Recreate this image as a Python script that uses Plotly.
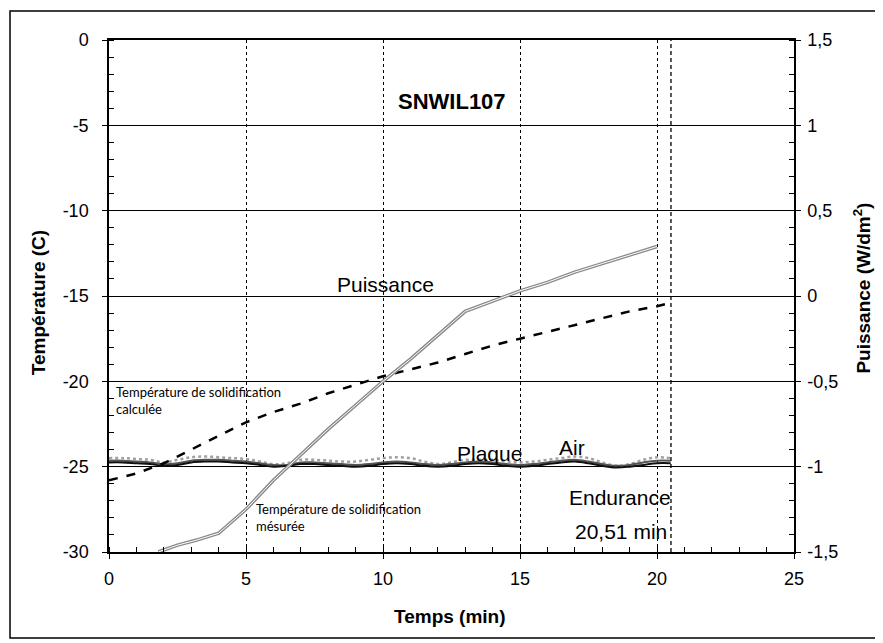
import plotly.graph_objects as go

# ---- Data ----
puis_t = [1.8, 2.5, 3.2, 4.0, 5.0, 6.0, 7.0, 8.0, 9.0, 10.0, 11.0, 12.0, 13.0, 14.0, 15.0, 16.0, 17.0, 18.0, 19.0, 20.0]
puis_w = [-1.5, -1.46, -1.43, -1.39, -1.25, -1.08, -0.93, -0.78, -0.64, -0.5, -0.37, -0.23, -0.09, -0.03, 0.03, 0.08, 0.14, 0.19, 0.24, 0.29]

calc_t = [0, 1, 2, 3, 4, 5, 6, 7, 8, 9, 10, 11, 12, 13, 14, 15, 16, 17, 18, 19, 20, 20.5]
calc_T = [-25.8, -25.4, -24.8, -24.0, -23.2, -22.4, -21.8, -21.3, -20.7, -20.2, -19.7, -19.3, -18.9, -18.4, -17.9, -17.5, -17.1, -16.7, -16.3, -15.9, -15.6, -15.4]

wave_t = [0, 0.5, 1, 1.5, 2, 2.5, 3, 3.5, 4, 4.5, 5, 5.5, 6, 6.5, 7, 7.5, 8, 8.5, 9, 9.5, 10,
          10.5, 11, 11.5, 12, 12.5, 13, 13.5, 14, 14.5, 15, 15.5, 16, 16.5, 17, 17.5, 18, 18.5, 19, 19.5, 20, 20.5]
air_T = [-24.5, -24.5, -24.55, -24.6, -24.75, -24.6, -24.45, -24.4, -24.45, -24.5, -24.55, -24.7, -24.85, -24.8,
         -24.6, -24.6, -24.65, -24.7, -24.7, -24.6, -24.5, -24.45, -24.5, -24.7, -24.85, -24.75, -24.6, -24.6,
         -24.6, -24.7, -24.75, -24.7, -24.6, -24.5, -24.4, -24.5, -24.75, -24.95, -24.85, -24.6, -24.45, -24.5]
mid_T = [-24.65, -24.65, -24.7, -24.75, -24.85, -24.8, -24.65, -24.6, -24.6, -24.65, -24.7, -24.8, -24.9, -24.9,
         -24.75, -24.75, -24.8, -24.85, -24.9, -24.85, -24.75, -24.7, -24.75, -24.85, -24.9, -24.85, -24.75, -24.7,
         -24.75, -24.85, -24.9, -24.85, -24.75, -24.65, -24.6, -24.7, -24.85, -24.95, -24.9, -24.75, -24.65, -24.65]
plaque_T = [-24.75, -24.75, -24.8, -24.85, -24.95, -24.9, -24.75, -24.7, -24.7, -24.75, -24.8, -24.9, -25.0, -24.95,
            -24.85, -24.85, -24.9, -24.95, -25.0, -24.95, -24.85, -24.8, -24.85, -24.95, -25.0, -24.95, -24.85, -24.8,
            -24.85, -24.95, -25.0, -24.95, -24.85, -24.75, -24.7, -24.8, -24.95, -25.05, -25.0, -24.9, -24.8, -24.8]

endurance = 20.51

x_ticks = [0, 5, 10, 15, 20, 25]
x_ticktext = ["0", "5", "10", "15", "20", "25"]
y_ticks = [0, -5, -10, -15, -20, -25, -30]
y_ticktext = ["0", "-5", "-10", "-15", "-20", "-25", "-30"]
y2_ticks = [1.5, 1, 0.5, 0, -0.5, -1, -1.5]
y2_ticktext = ["1,5", "1", "0,5", "0", "-0,5", "-1", "-1,5"]

FONT = "Liberation Sans"

fig = go.Figure()

# wavy temperature curves
fig.add_trace(go.Scatter(x=wave_t, y=air_T, mode="lines", line=dict(color="#a0a0a0", width=2.5, dash="dot", shape="spline")))
fig.add_trace(go.Scatter(x=wave_t, y=mid_T, mode="lines", line=dict(color="#555555", width=2, shape="spline")))
fig.add_trace(go.Scatter(x=wave_t, y=plaque_T, mode="lines", line=dict(color="#111111", width=2, shape="spline")))

# calculated solidification temperature (dashed)
fig.add_trace(go.Scatter(x=calc_t, y=calc_T, mode="lines", line=dict(color="black", width=2.5, dash="dash")))

# Puissance (double grey line) on right axis
fig.add_trace(go.Scatter(x=puis_t, y=puis_w, mode="lines", yaxis="y2", line=dict(color="#8a8a8a", width=3.5)))
fig.add_trace(go.Scatter(x=puis_t, y=puis_w, mode="lines", yaxis="y2", line=dict(color="white", width=1)))

fig.add_shape(type="line", xref="x", yref="y", x0=endurance, x1=endurance, y0=-30, y1=0,
              line=dict(color="black", width=1.3, dash="4px,3px"))

# outer frame
fig.add_shape(type="rect", xref="paper", yref="paper", x0=-0.1445, x1=1.1197, y0=-0.168, y1=1.0566,
              line=dict(color="black", width=1.5), layer="below")

ann = [
    (12.5, -3.6, "<b>SNWIL107</b>", 22),
    (10.1, -14.35, "Puissance", 21),
    (13.9, -24.25, "Plaque", 21),
    (16.9, -23.9, "Air", 21),
    (18.65, -26.8, "Endurance", 21),
    (18.7, -28.8, "20,51 min", 21),
]
annotations = []
for ax_, ay_, txt, sz in ann:
    annotations.append(dict(xref="x", yref="y", showarrow=False, xanchor="center", yanchor="middle",
                            font=dict(family=FONT, color="black", size=sz), x=ax_, y=ay_, text=txt))
annotations.append(dict(xref="x", yref="y", x=0.2, y=-21.1, xanchor="left", yanchor="middle", showarrow=False,
                        align="left", text="Température de solidification<br>calculée",
                        font=dict(family="Lato", size=13, color="black")))
annotations.append(dict(xref="x", yref="y", x=5.3, y=-28.0, xanchor="left", yanchor="middle", showarrow=False,
                        align="left", text="Température de solidification<br>mésurée",
                        font=dict(family="Lato", size=13, color="black")))
# axis titles
annotations.append(dict(xref="paper", yref="paper", x=-0.1036, y=0.486, textangle=-90, showarrow=False,
                        xanchor="center", yanchor="middle",
                        text="<b>Température (C)</b>", font=dict(family=FONT, size=19, color="black")))
annotations.append(dict(xref="paper", yref="paper", x=1.099, y=0.516, textangle=-90, showarrow=False,
                        xanchor="center", yanchor="middle",
                        text="<b>Puissance (W/dm<sup>2</sup>)</b>", font=dict(family=FONT, size=19, color="black")))
annotations.append(dict(xref="paper", yref="paper", x=0.498, y=-0.125, showarrow=False,
                        xanchor="center", yanchor="middle",
                        text="<b>Temps (min)</b>", font=dict(family=FONT, size=19, color="black")))

fig.update_layout(
    width=875, height=635,
    margin=dict(l=101, r=89, t=32, b=91),
    paper_bgcolor="white", plot_bgcolor="white",
    showlegend=False,
    font=dict(family=FONT, color="black", size=18),
    annotations=annotations,
    xaxis=dict(range=[0, 25], tickvals=x_ticks, ticktext=x_ticktext, showgrid=True, gridcolor="black", gridwidth=1,
               griddash="dot", showline=True, linecolor="black", linewidth=1.5, mirror=True, zeroline=False,
               ticks="outside", ticklen=5, tickcolor="black", ticklabelstandoff=5,
               minor=dict(dtick=1, tick0=0, ticks="inside", ticklen=5, tickcolor="black", showgrid=False),
               tickfont=dict(size=18)),
    yaxis=dict(range=[-30, 0], tickvals=y_ticks, ticktext=y_ticktext, showgrid=True, gridcolor="black", gridwidth=1,
               showline=True, linecolor="black", linewidth=1.5, zeroline=False,
               ticks="outside", ticklen=5, tickcolor="black", ticklabelstandoff=10,
               minor=dict(dtick=1, tick0=0, ticks="inside", ticklen=5, tickcolor="black", showgrid=False),
               tickfont=dict(size=18)),
    yaxis2=dict(range=[-1.5, 1.5], tickvals=y2_ticks, ticktext=y2_ticktext, overlaying="y", side="right",
                showgrid=False, showline=True, linecolor="black", linewidth=1.5, zeroline=False,
                ticks="outside", ticklen=5, tickcolor="black", ticklabelstandoff=3,
                minor=dict(dtick=0.1, tick0=0, ticks="inside", ticklen=5, tickcolor="black", showgrid=False),
                tickfont=dict(size=18)),
)

fig.write_html("out.html")
